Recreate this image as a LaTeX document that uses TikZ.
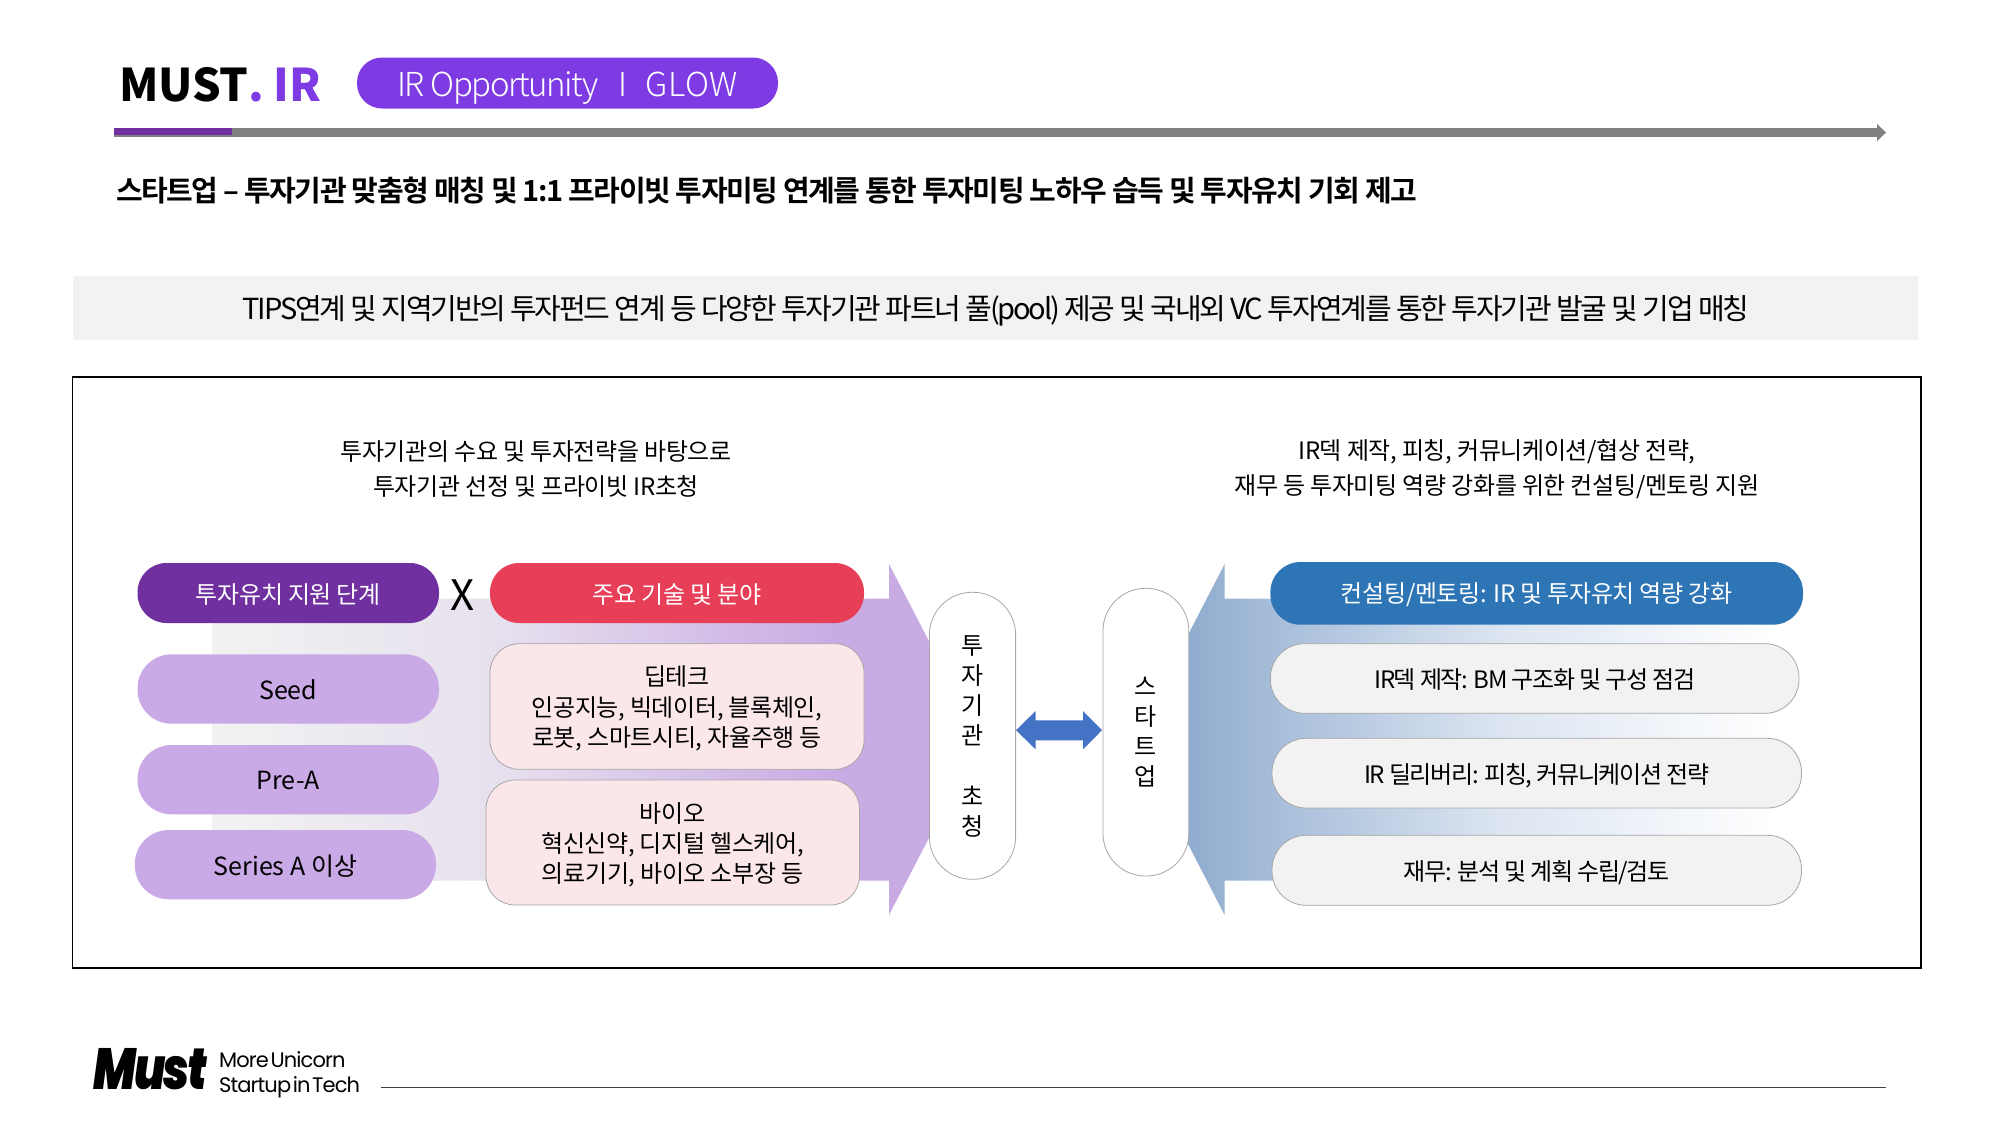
\documentclass[tikz,border=0pt]{standalone}
\usepackage{fontspec}
\setmainfont{Noto Sans CJK KR}[LetterSpace=-1.5]
\newfontfamily\titlefont{Noto Sans CJK KR Bold}[LetterSpace=-5.1]
\newfontfamily\heavy{Noto Sans CJK KR Black}[LetterSpace=-1]
\newfontfamily\light{Noto Sans CJK KR Light}[LetterSpace=-4.4]
\newfontfamily\lightwide{Noto Sans CJK KR Light}[LetterSpace=2]
\newfontfamily\tightfont{Noto Sans CJK KR}[LetterSpace=-5.5]
\newfontfamily\bandfont{Noto Sans CJK KR}[LetterSpace=-7.6]
\newfontfamily\openfont{Noto Sans CJK KR}[LetterSpace=0]
\newfontfamily\logofont{Poppins}[ItalicFont={Poppins Black Italic},LetterSpace=-4]
\newfontfamily\tagfont{Poppins}[LetterSpace=-4.2,WordSpace=0.35]
\definecolor{leftA}{HTML}{F2F2F2}
\definecolor{leftB}{HTML}{E6E0EE}
\definecolor{leftC}{HTML}{C9ABE4}
\definecolor{rightA}{HTML}{8FABCD}
\definecolor{rightB}{HTML}{A5BCD9}
\definecolor{rightC}{HTML}{DCE5F1}
\definecolor{rightD}{HTML}{FFFFFF}
\pgfdeclarehorizontalshading{leftarrowshade}{100bp}{color(0bp)=(leftA); color(25bp)=(leftA); color(44bp)=(leftB); color(65.4bp)=(leftC); color(100bp)=(leftC)}
\pgfdeclarehorizontalshading{rightarrowshade}{100bp}{color(0bp)=(rightA); color(29bp)=(rightA); color(35.5bp)=(rightB); color(53.5bp)=(rightC); color(75bp)=(rightD); color(100bp)=(rightD)}
\definecolor{hdrpurple}{HTML}{7F3BE3}
\definecolor{stagepurple}{HTML}{7030A0}
\definecolor{lilac}{HTML}{C9A9E6}
\definecolor{rosefill}{HTML}{FBE7EA}
\definecolor{redpill}{HTML}{E83F58}
\definecolor{bluepill}{HTML}{2E75B6}
\definecolor{dblarrow}{HTML}{4472C4}
\definecolor{softgray}{HTML}{F2F2F2}
\definecolor{edgegray}{HTML}{A6A6A6}
\tikzset{
  x=1pt,y=-1pt,
  pill/.style={rounded corners=29pt,inner sep=0pt,align=center,font=\fontsize{24}{30.3}\selectfont},
  stagehead/.style={pill,fill=stagepurple,text=white},
  stageitem/.style={pill,rounded corners=34pt,fill=lilac,text=black,font=\openfont\fontsize{25}{30.6}\selectfont},
  fieldhead/.style={pill,fill=redpill,text=white},
  fielditem/.style={pill,fill=rosefill,draw=edgegray,line width=.8pt,text=black},
  consulthead/.style={pill,rounded corners=30pt,fill=bluepill,text=white},
  consultitem/.style={pill,rounded corners=34pt,fill=softgray,draw=edgegray,line width=.8pt,text=black,font=\tightfont\fontsize{24}{30.6}\selectfont},
  sidepill/.style={draw=edgegray,line width=.8pt,fill=white,rounded corners=42.5pt,inner sep=0pt,align=center,font=\fontsize{24}{30.1}\selectfont},
  caption/.style={align=center,inner sep=0pt,font=\fontsize{24}{35.5}\selectfont},
}
\newcommand{\boxat}[6]{\node[#1,minimum width=#4-#2,minimum height=#5-#3] at ({(#2+#4)/2},{(#3+#5)/2}) #6}
\newcommand{\lift}[2]{\raisebox{-#1pt}[\height][\depth]{#2}}
\newcommand{\stackc}[1]{\begin{tabular}{@{}c@{}}#1\end{tabular}}
\begin{document}
\begin{tikzpicture}
\useasboundingbox (0,0) rectangle (2001,1125);
% header
\node[inner sep=0pt,anchor=base west,font=\heavy\fontsize{45}{45}\selectfont] (brand) at (119.5,101) {MUST\textcolor{hdrpurple}{. IR}};
\node[fill=hdrpurple,text=white,rounded corners=25pt,minimum width=421pt,minimum height=51pt,inner sep=0pt,font=\light\fontsize{33}{33}\selectfont] (tagpill) at (567.5,83) {\lift{5}{IR Opportunity\hspace{20pt}I\hspace{18pt}{\lightwide GLOW}}};
\fill[black!50] (114,128.3) rectangle (1878,136.7);
\fill[black!50] (1877,124) -- (1886,132.5) -- (1877,141.3) -- cycle;
\fill[stagepurple] (114,128.3) rectangle (232,135);
\node[anchor=west,inner sep=0pt,font=\titlefont\fontsize{29}{29}\selectfont] (title) at (116,191) {스타트업 – 투자기관 맞춤형 매칭 및 1:1 프라이빗 투자미팅 연계를 통한 투자미팅 노하우 습득 및 투자유치 기회 제고};
% band
\fill[softgray] (73,276) rectangle (1918,340);
\node[inner sep=0pt,font=\bandfont\fontsize{29}{29}\selectfont] (band) at (996,311) {TIPS연계 및 지역기반의 투자펀드 연계 등 다양한 투자기관 파트너 풀(pool) 제공 및 국내외 VC 투자연계를 통한 투자기관 발굴 및 기업 매칭};
% frame
\draw[black,line width=1.4pt] (72.5,377) rectangle (1921,968);
\node[caption] (capL) at (536,469) {투자기관의 수요 및 투자전략을 바탕으로\\투자기관 선정 및 프라이빗 IR초청};
\node[caption] (capR) at (1497,469) {IR덱 제작, 피칭, 커뮤니케이션/협상 전략,\\재무 등 투자미팅 역량 강화를 위한 컨설팅/멘토링 지원};
% big arrows
\shade[shading=leftarrowshade] (212,598.7) -- (889,598.7) -- (889,564) -- (980,739.5) -- (889,915) -- (889,880.7) -- (212,880.7) -- cycle;
\shade[shading=rightarrowshade] (1777,598.7) -- (1224.6,598.7) -- (1224.6,564) -- (1134,739.5) -- (1224.6,915) -- (1224.6,880.7) -- (1777,880.7) -- cycle;
% left column
\boxat{stagehead}{137.5}{563}{439}{623}{(stagehead) {\lift{1.5}{투자유치 지원 단계}};}
\boxat{stageitem}{137.5}{654.3}{439}{723.7}{(seed) {\lift{1}{Seed}};}
\boxat{stageitem}{137.5}{745}{439}{814.3}{(prea) {\lift{1}{Pre-A}};}
\boxat{stageitem}{134.8}{830}{436}{899.3}{(seriesa) {\lift{1}{Series A 이상}};}
\node[inner sep=0pt,font=\fontsize{42}{42}\selectfont] (times) at (463,595) {X};
\boxat{fieldhead}{490}{563}{864}{623}{(fieldhead) {\lift{1.5}{주요 기술 및 분야}};}
\boxat{fielditem}{490}{643.7}{864}{769.3}{(deep) {\lift{3.5}{\stackc{딥테크\\인공지능, 빅데이터, 블록체인,\\로봇, 스마트시티, 자율주행 등}}};}
\boxat{fielditem}{486}{780}{859.4}{905}{(bio) {\lift{4}{\stackc{바이오\\혁신신약, 디지털 헬스케어,\\의료기기, 바이오 소부장 등}}};}
% side pills
\boxat{sidepill}{929.4}{592.3}{1015.6}{879.3}{(investor) {\lift{3}{\stackc{투\\자\\기\\관\\[30.1pt]초\\청}}};}
\boxat{sidepill}{1103}{588.3}{1188.8}{876}{(startup) {\lift{2.5}{\stackc{스\\타\\트\\업}}};}
\fill[dblarrow] (1016,730.2) -- (1035.6,711) -- (1035.6,720.3) -- (1083,720.3) -- (1083,711) -- (1102,730.2) -- (1083,749.3) -- (1083,740.3) -- (1035.6,740.3) -- (1035.6,749.3) -- cycle;
% right column
\boxat{consulthead}{1270.4}{562}{1803}{624.7}{(consult) {\lift{1.5}{컨설팅/멘토링: IR 및 투자유치 역량 강화}};}
\boxat{consultitem}{1270.4}{643.7}{1799}{713.3}{(deck) {\lift{1.5}{IR덱 제작: BM 구조화 및 구성 점검}};}
\boxat{consultitem}{1272}{738.3}{1801.5}{808}{(deliv) {\lift{2.5}{IR 딜리버리: 피칭, 커뮤니케이션 전략}};}
\boxat{consultitem}{1272}{835.3}{1801.5}{905.3}{(fin) {\lift{2.5}{재무: 분석 및 계획 수립/검토}};}
% footer
\node[anchor=base west,inner sep=0pt,font=\logofont\itshape\fontsize{58}{58}\selectfont] (mustlogo) at (93,1089) {\scalebox{.775}[1]{Must}};
\node[anchor=base west,inner sep=0pt,font=\tagfont\fontsize{21}{21}\selectfont] (more) at (219,1067) {More Unicorn};
\node[anchor=base west,inner sep=0pt,font=\tagfont\fontsize{21}{21}\selectfont] (startup2) at (219,1092) {Startup in Tech};
\draw[black!75,line width=1pt] (381,1087.5) -- (1886,1087.5);
\end{tikzpicture}
\end{document}
